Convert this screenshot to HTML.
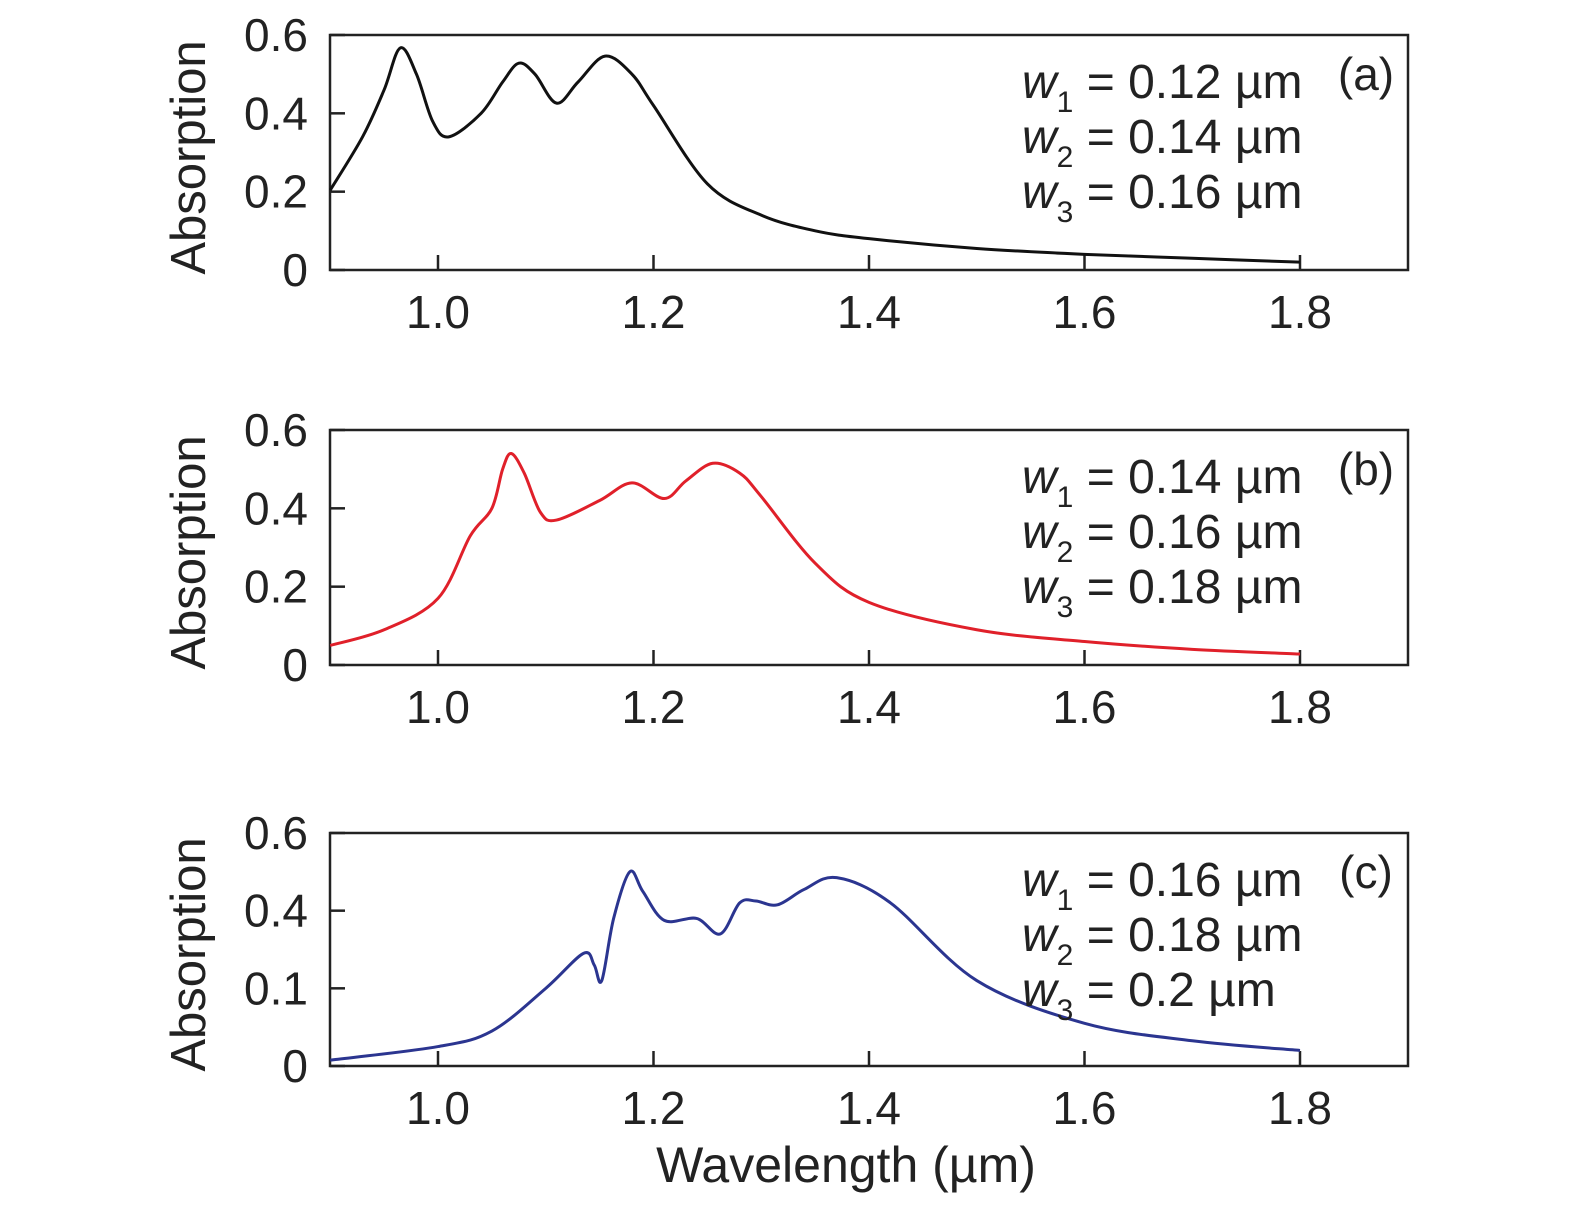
<!DOCTYPE html>
<html><head><meta charset="utf-8"><style>
body{margin:0;background:#fff;}
svg{display:block;font-family:"Liberation Sans","DejaVu Sans",sans-serif;}
</style></head><body>
<svg id="chart" width="1575" height="1207" viewBox="0 0 1575 1207" xmlns="http://www.w3.org/2000/svg"></svg>
<script>
const xTicks=[1.0,1.2,1.4,1.6,1.8];
const xTickLabels=["1.0","1.2","1.4","1.6","1.8"];
const yTicks=[0,0.2,0.4,0.6];
const yTickLabelsA=["0","0.2","0.4","0.6"];
const yTickLabelsB=["0","0.2","0.4","0.6"];
const yTickLabelsC=["0","0.1","0.4","0.6"];
const wlA=[0.9,0.93,0.95,0.965,0.98,0.995,1.01,1.04,1.06,1.075,1.09,1.11,1.13,1.155,1.18,1.2,1.25,1.3,1.35,1.4,1.5,1.6,1.7,1.8];
const absA=[0.204,0.34,0.46,0.567,0.5,0.38,0.34,0.40,0.48,0.528,0.5,0.426,0.48,0.546,0.5,0.42,0.22,0.14,0.10,0.08,0.055,0.04,0.03,0.02];
const wlB=[0.9,0.95,1.0,1.03,1.05,1.06,1.068,1.08,1.095,1.11,1.15,1.18,1.21,1.23,1.255,1.28,1.3,1.35,1.4,1.5,1.6,1.7,1.8];
const absB=[0.05,0.09,0.17,0.33,0.40,0.50,0.54,0.49,0.39,0.37,0.42,0.465,0.425,0.47,0.515,0.49,0.43,0.26,0.16,0.09,0.06,0.04,0.028];
const wlC=[0.9,1.0,1.05,1.1,1.135,1.145,1.152,1.163,1.178,1.19,1.21,1.24,1.262,1.28,1.295,1.315,1.34,1.37,1.42,1.5,1.6,1.7,1.8];
const absC=[0.015,0.05,0.09,0.20,0.29,0.26,0.22,0.38,0.50,0.45,0.375,0.38,0.34,0.42,0.425,0.415,0.455,0.485,0.42,0.22,0.11,0.065,0.04];
const panels=[
 {id:"a",top:35,bot:270,wl:wlA,ab:absA,col:"#111",yl:yTickLabelsA,w:["0.12","0.14","0.16"]},
 {id:"b",top:430,bot:665,wl:wlB,ab:absB,col:"#e0202a",yl:yTickLabelsB,w:["0.14","0.16","0.18"]},
 {id:"c",top:833,bot:1066,wl:wlC,ab:absC,col:"#2b3590",yl:yTickLabelsC,w:["0.16","0.18","0.2"]}
];
const NS="http://www.w3.org/2000/svg";
const svg=document.getElementById('chart');
const L=330,R=1408;
function xs(v){return 330.25+(v-0.9)*1077.5;}
function mk(t,a,p){const e=document.createElementNS(NS,t);for(const k in a)e.setAttribute(k,a[k]);(p||svg).appendChild(e);return e;}
panels.forEach(p=>{
 const ys=v=>p.bot-(v/0.6)*(p.bot-p.top);
 const g=mk('g',{});
 
 
 const fr=mk('rect',{x:L,y:p.top,width:R-L,height:p.bot-p.top,fill:'none',stroke:'#222','stroke-width':2.5},g);
 
 
 xTicks.forEach((t,i)=>{
  mk('line',{x1:xs(t),x2:xs(t),y1:p.bot,y2:p.bot-15,stroke:'#222','stroke-width':2.5},g);
  const tx=mk('text',{x:xs(t),y:p.bot+58,'font-size':46,'text-anchor':'middle',fill:'#222'},g);
  tx.textContent=xTickLabels[i];
  
  
 });
 yTicks.forEach((t,i)=>{
  mk('line',{x1:L,x2:L+15,y1:ys(t),y2:ys(t),stroke:'#222','stroke-width':2.5},g);
  const tx=mk('text',{x:308,y:ys(t)+16,'font-size':46,'text-anchor':'end',fill:'#222'},g);
  tx.textContent=p.yl[i];
  
  
 });
 const yl=mk('text',{x:0,y:0,'font-size':49,'text-anchor':'middle',fill:'#222',transform:`translate(205,${(p.top+p.bot)/2+5}) rotate(-90)`},g);
 yl.textContent='Absorption';
 
 
 const pts=p.wl.map((w,i)=>[xs(w),ys(p.ab[i])]);
 let d=`M${pts[0][0]},${pts[0][1]}`;
 for(let i=0;i<pts.length-1;i++){
  const p0=pts[Math.max(0,i-1)],p1=pts[i],p2=pts[i+1],p3=pts[Math.min(pts.length-1,i+2)];
  const c1=[p1[0]+(p2[0]-p0[0])/6,p1[1]+(p2[1]-p0[1])/6];
  const c2=[p2[0]-(p3[0]-p1[0])/6,p2[1]-(p3[1]-p1[1])/6];
  d+=` C${c1[0]},${c1[1]} ${c2[0]},${c2[1]} ${p2[0]},${p2[1]}`;
 }
 const ln=mk('path',{d:d,fill:'none',stroke:p.col,'stroke-width':3},g);
 
 
 p.w.forEach((wv,i)=>{
  const by=p.top+63+i*55;
  const t=mk('text',{x:1022,y:by,'font-size':48,'text-anchor':'start',fill:'#222'},g);
  t.innerHTML=`<tspan font-style="italic">w</tspan><tspan font-size="30" dy="14">${i+1}</tspan><tspan dy="-14"> = ${wv} µm</tspan>`;
  
  
 });
 const lab=mk('text',{x:1366,y:p.top+55,'font-size':46,'text-anchor':'middle',fill:'#222'},g);
 lab.textContent='('+p.id+')';
 
 
});
const xt=mk('text',{x:846,y:1182,'font-size':50,'text-anchor':'middle',fill:'#222'});
xt.textContent='Wavelength (µm)';


</script>
</body></html>
